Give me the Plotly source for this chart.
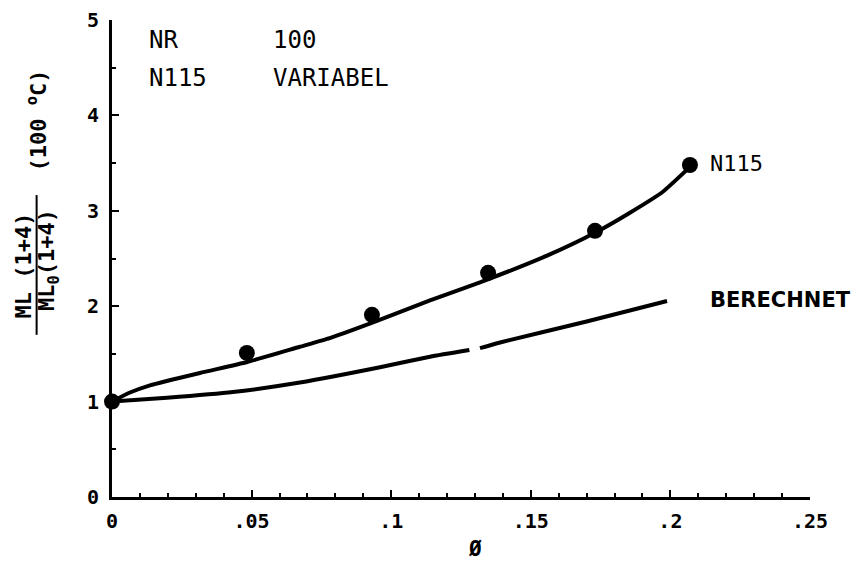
import plotly.graph_objects as go

# measured points (N115 series)
phi_pts = [0.0, 0.0483, 0.0931, 0.1347, 0.173, 0.207]
ml_pts = [1.0, 1.51, 1.91, 2.35, 2.79, 3.48]

# fitted curve through the measurements
phi_fit = [0.0, 0.006, 0.0136, 0.0315, 0.0484, 0.0673, 0.078, 0.0935, 0.1139, 0.1318,
           0.1558, 0.173, 0.1855, 0.1973, 0.207]
ml_fit = [1.0, 1.09, 1.17, 1.30, 1.415, 1.575, 1.665, 1.83, 2.06, 2.25,
          2.53, 2.77, 2.98, 3.20, 3.46]

# calculated curve ("BERECHNET"), with the small gap near 0.13
phi_calc = [0.0, 0.0197, 0.0433, 0.0673, 0.096, 0.1139, 0.128, None,
            0.1318, 0.139, 0.17, 0.1988]
ml_calc = [1.0, 1.04, 1.10, 1.20, 1.36, 1.47, 1.54, None,
           1.56, 1.62, 1.84, 2.055]

x_ticks = [0, 0.05, 0.1, 0.15, 0.2, 0.25]
x_ticktext = ["0", ".05", ".1", ".15", ".2", ".25"]
y_ticks = [0, 1, 2, 3, 4, 5]

FONT = "DejaVu Sans Mono"

fig = go.Figure()
fig.add_trace(go.Scatter(x=phi_fit, y=ml_fit, mode="lines",
                         line=dict(color="black", width=4, shape="spline", smoothing=0.5),
                         hoverinfo="skip"))
fig.add_trace(go.Scatter(x=phi_calc, y=ml_calc, mode="lines", connectgaps=False,
                         line=dict(color="black", width=4, shape="spline", smoothing=0.5),
                         hoverinfo="skip"))
fig.add_trace(go.Scatter(x=phi_pts, y=ml_pts, mode="markers", cliponaxis=False,
                         marker=dict(color="black", size=16)))

# page body has an 8px margin, so the figure is a bit smaller than the window
fig.update_layout(
    width=853, height=555,
    margin=dict(l=104, r=51, t=12, b=66, pad=0),
    plot_bgcolor="white", paper_bgcolor="white",
    showlegend=False,
    font=dict(family=FONT, size=18, color="black"),
)
fig.update_xaxes(range=[0, 0.25], tickvals=x_ticks, ticktext=x_ticktext, automargin=False,
                 showline=True, linecolor="black", linewidth=3,
                 ticks="inside", ticklen=7, tickwidth=2, tickcolor="black",
                 minor=dict(dtick=0.01, ticks="inside", ticklen=4, tickwidth=2, tickcolor="black"),
                 showgrid=False, zeroline=False,
                 tickfont=dict(family=FONT, size=20, weight="bold"),
                 ticklabelstandoff=4)
fig.update_yaxes(range=[0, 5], tickvals=y_ticks, automargin=False,
                 showline=True, linecolor="black", linewidth=3,
                 ticks="inside", ticklen=7, tickwidth=2, tickcolor="black",
                 minor=dict(dtick=0.5, ticks="inside", ticklen=4, tickwidth=2, tickcolor="black"),
                 showgrid=False, zeroline=False,
                 tickfont=dict(family=FONT, size=20, weight="bold"),
                 ticklabelstandoff=6)

big = dict(family=FONT, size=24, color="black")
anns = [
    dict(text="NR", x=0.05, y=0.958),
    dict(text="100", x=0.228, y=0.958),
    dict(text="N115", x=0.05, y=0.878),
    dict(text="VARIABEL", x=0.228, y=0.878),
]
for a in anns:
    fig.add_annotation(xref="paper", yref="paper", xanchor="left", yanchor="middle",
                       showarrow=False, font=big, **a)

fig.add_annotation(x=0.2135, y=3.5, xref="x", yref="y", text="N115", xanchor="left",
                   yanchor="middle", showarrow=False, font=dict(family=FONT, size=22, color="black"))
fig.add_annotation(x=0.2135, y=2.07, xref="x", yref="y", text="BERECHNET", xanchor="left",
                   yanchor="middle", showarrow=False,
                   font=dict(family="DejaVu Sans", size=21, color="black", weight="bold"))

# y-axis title as a rotated fraction
yt = dict(family=FONT, size=22, color="black", weight="bold")
fig.add_annotation(xref="paper", yref="paper", x=-0.127, y=0.486, text="ML (1+4)",
                   xanchor="center", yanchor="middle",
                   textangle=-90, showarrow=False, font=yt)
fig.add_annotation(xref="paper", yref="paper", x=-0.09, y=0.497, text="ML<sub>0</sub>(1+4)",
                   xanchor="center", yanchor="middle",
                   textangle=-90, showarrow=False, font=yt)
fig.add_annotation(xref="paper", yref="paper", x=-0.107, y=0.79, text="(100 <sup>o</sup>C)",
                   xanchor="center", yanchor="middle",
                   textangle=-90, showarrow=False, font=yt)
fig.add_shape(type="line", xref="paper", yref="paper", x0=-0.108, x1=-0.108, y0=0.34, y1=0.633,
              line=dict(color="black", width=2))

fig.add_annotation(xref="paper", yref="paper", x=0.52, y=-0.08, yanchor="top", xanchor="center",
                   text="Ø", showarrow=False,
                   font=dict(family=FONT, size=21, color="black", weight="bold"))

fig.write_html("out.html")
